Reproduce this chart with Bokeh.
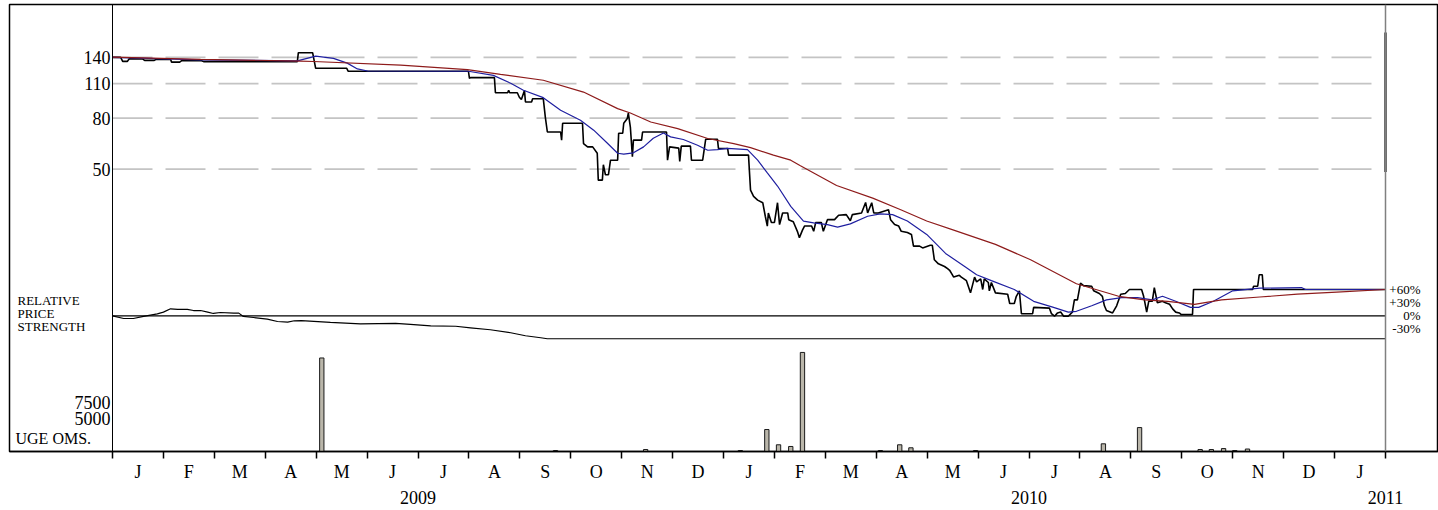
import math
from bokeh.plotting import figure
from bokeh.models import Range1d, LinearScale, LinearAxis, FixedTicker, Span
from bokeh.core.properties import value
from bokeh.embed import file_html
from bokeh.resources import INLINE

# ---------------- data ----------------
# time axis: months since 1 Jan 2009 (0 = start of Jan 2009, 25 = start of Feb 2011)
month_letters = ["J", "F", "M", "A", "M", "J", "J", "A", "S", "O", "N", "D"] * 2 + ["J"]
year_labels = ["2009", "2010", "2011"]
year_pos = [6, 18, 25]
price_ticks = [140, 110, 80, 50]
vol_ticks = [7500, 5000]
rps_ticks = [60, 30, 0, -30]
rps_tick_labels = ["+60%", "+30%", "0%", "-30%"]

price_t = [0.00, 0.16, 0.20, 0.29, 0.33, 0.59, 0.63, 0.82, 0.86, 1.14, 1.16, 1.32, 1.36, 1.75, 1.79,
           3.63, 3.65, 3.93, 3.99, 4.60, 4.63, 6.99, 7.01, 7.03, 7.50, 7.52, 7.76, 7.78, 7.80, 7.95,
           7.99, 8.03, 8.09, 8.11, 8.23, 8.25, 8.46, 8.50, 8.54, 8.80, 8.82, 8.84, 9.23, 9.25, 9.33,
           9.43, 9.52, 9.54, 9.62, 9.64, 9.68, 9.74, 9.78, 9.92, 9.94, 10.02, 10.04, 10.11, 10.13,
           10.17, 10.21, 10.23, 10.39, 10.41, 10.88, 10.90, 10.94, 11.12, 11.14, 11.17, 11.35, 11.37,
           11.59, 11.61, 11.65, 11.88, 11.90, 12.08, 12.10, 12.49, 12.53, 12.59, 12.67, 12.77, 12.82,
           12.86, 12.88, 12.94, 13.00, 13.06, 13.10, 13.16, 13.26, 13.28, 13.37, 13.45, 13.49, 13.55,
           13.59, 13.73, 13.77, 13.81, 13.92, 13.96, 14.04, 14.18, 14.26, 14.41, 14.49, 14.53, 14.71,
           14.79, 14.83, 14.91, 14.95, 15.04, 15.24, 15.28, 15.36, 15.44, 15.49, 15.61, 15.69, 15.73,
           15.85, 15.91, 16.06, 16.10, 16.14, 16.22, 16.34, 16.40, 16.44, 16.48, 16.52, 16.63, 16.67,
           16.77, 16.85, 16.93, 16.97, 17.05, 17.09, 17.12, 17.20, 17.22, 17.26, 17.34, 17.58, 17.62,
           17.71, 17.75, 17.81, 17.85, 18.07, 18.09, 18.40, 18.44, 18.50, 18.56, 18.62, 18.68, 18.77,
           18.85, 18.89, 18.95, 19.01, 19.07, 19.23, 19.27, 19.38, 19.44, 19.48, 19.52, 19.64, 19.72,
           19.80, 19.89, 19.97, 20.21, 20.25, 20.27, 20.31, 20.35, 20.42, 20.46, 20.52, 20.62, 20.68,
           20.76, 20.82, 20.88, 20.95, 20.99, 21.21, 21.23, 22.39, 22.41, 22.49, 22.52, 22.58, 22.60,
           25.00]
price = [140.0, 140.0, 134.9, 134.9, 138.1, 138.1, 136.2, 136.2, 137.5, 137.5, 134.0, 134.0, 135.8, 135.8, 134.6,
         134.6, 146.2, 146.2, 126.6, 126.6, 123.2, 123.2, 115.5, 116.2, 116.2, 101.1, 101.1, 103.3, 101.1, 101.1,
         97.0, 95.0, 103.3, 92.8, 92.8, 95.7, 95.7, 80.8, 70.4, 70.4, 65.3, 76.3, 76.3, 63.3, 61.4,
         61.4, 57.9, 45.2, 45.2, 52.1, 47.5, 47.5, 54.3, 54.3, 69.6, 69.6, 76.3, 79.8, 83.7,
         73.7, 56.1, 65.3, 65.3, 70.4, 70.4, 54.3, 61.4, 60.7, 53.7, 61.8, 61.8, 54.3,
         54.3, 57.9, 65.9, 65.9, 60.5, 60.5, 56.9, 56.9, 41.2, 38.9, 37.6, 36.7, 32.4,
         29.6, 33.4, 30.6, 30.6, 36.7, 30.0, 33.4, 33.4, 31.4, 30.8, 28.2, 26.6, 28.5,
         29.6, 29.6, 28.2, 30.6, 30.6, 28.2, 31.4, 31.4, 32.7, 32.9, 31.1, 32.9, 33.4,
         36.8, 33.4, 36.7, 33.4, 33.4, 34.4, 31.4, 30.0, 29.6, 28.2, 27.9, 27.4, 24.6,
         24.6, 24.2, 24.8, 24.8, 21.7, 20.9, 20.4, 20.0, 19.7, 19.1, 18.5, 18.8, 18.5,
         17.9, 16.0, 18.5, 17.7, 18.2, 16.5, 18.2, 17.6, 16.3, 17.6, 16.0, 15.8, 14.5,
         14.5, 15.5, 16.3, 13.2, 13.2, 14.0, 13.9, 13.2, 12.9, 13.3, 13.4, 12.9, 12.9,
         13.4, 15.0, 15.0, 17.5, 17.1, 17.0, 16.3, 15.9, 15.5, 14.2, 13.6, 13.3, 14.2,
         15.8, 15.9, 16.5, 16.5, 15.5, 14.8, 13.4, 14.8, 14.8, 16.8, 14.6, 14.8, 14.6,
         14.4, 13.8, 13.4, 13.3, 13.1, 13.1, 16.5, 16.5, 17.0, 17.0, 18.9, 18.9, 16.5,
         16.5]

ma_fast_t = [0, 1.73, 3.63, 3.99, 4.34, 4.61, 4.81, 5.01, 6.99, 7.48, 7.82, 8.07, 8.46, 8.80, 9.19, 9.45,
             9.72, 9.92, 10.04, 10.23, 10.43, 10.62, 10.82, 10.96, 11.21, 11.49, 11.69, 11.88, 12.08,
             12.47, 12.67, 12.86, 13.06, 13.32, 13.57, 13.77, 14.04, 14.24, 14.49, 14.83, 15.08, 15.32,
             15.61, 15.99, 16.36, 16.75, 16.97, 17.26, 17.71, 18.09, 18.48, 18.77, 18.93, 19.23, 19.52,
             19.82, 20.13, 20.42, 20.62, 20.88, 21.17, 21.33, 21.62, 22.00, 22.53, 23.35, 23.43, 25.0]
ma_fast = [140, 136.9, 135.6, 141.7, 138.7, 132.8, 125.9, 123.5, 123.2, 118.6, 110.3, 103.4, 96.6, 86.0, 78.5, 71.6,
           63.5, 57.9, 57.4, 58.1, 61.4, 66.5, 69.8, 67.3, 65.7, 62.3, 59.5, 59.9, 60.5,
           59.9, 54.3, 48.3, 42.8, 35.5, 31.0, 30.5, 30.0, 29.3, 30.2, 32.4, 33.1, 32.9,
           31.0, 27.4, 23.0, 20.3, 18.9, 17.9, 16.5, 14.8, 14.0, 13.4, 13.5, 14.2, 15.0,
           15.3, 15.3, 15.0, 15.5, 14.8, 14.0, 14.0, 14.8, 16.3, 16.7, 16.8, 16.5, 16.5]

ma_slow_t = [0, 1.73, 3.69, 3.95, 5.66, 6.97, 7.62, 8.46, 9.25, 9.92, 10.17, 10.57, 11.10, 11.69, 12.20,
             12.53, 12.98, 13.32, 13.51, 14.22, 14.93, 15.48, 15.99, 16.52, 17.34, 18.03, 18.93, 19.76,
             20.27, 20.72, 21.25, 21.78, 22.53, 23.27, 24.04, 25.0]
ma_slow = [140.4, 137.5, 135.3, 134.8, 130.3, 125.1, 119.7, 113.4, 101.7, 87.3, 83.9, 77.2, 72.6, 66.3, 63.3,
           61.0, 56.9, 54.3, 51.6, 43.0, 38.3, 34.4, 31.0, 28.5, 25.0, 21.7, 17.4, 15.5,
           15.0, 14.8, 14.4, 15.0, 15.4, 15.8, 16.1, 16.5]

rps_t = [0.00, 0.22, 0.41, 0.61, 0.88, 1.00, 1.14, 1.28, 1.47, 1.59, 1.73, 1.87, 1.98, 2.12, 2.38, 2.48,
         2.57, 2.77, 3.04, 3.24, 3.44, 3.57, 3.71, 4.28, 4.87, 5.56, 5.85, 6.25, 6.74, 7.03, 7.42,
         7.82, 8.11, 8.41, 8.54, 25.0]
rps = [0, -6.2, -6.2, -1.5, 4.6, 8.5, 16.2, 15.0, 15.0, 12.2, 12.2, 8.5, 5.4, 7.6, 6.2, 6.2,
       -1.5, -3.9, -7.6, -13.2, -14.5, -11.5, -11.1, -15.0, -18.5, -17.3, -19.6, -23.1, -24.2, -27.7, -32.3,
       -39.2, -46.2, -50.8, -53.1, -53.1]

vol_t = [4.11, 8.70, 10.47, 12.33, 12.85, 13.08, 13.32, 13.55, 15.08, 15.46, 15.68, 16.95, 19.46, 20.17,
         21.36, 21.58, 21.82, 22.04, 22.29]
vol = [14340, 150, 300, 150, 3370, 1030, 770, 15190, 150, 1030, 570, 150, 1180, 3670,
       300, 300, 450, 150, 380]

price_band = [48.7, 176.0]   # dark marker on the right edge (low, high)

# ---------------- layout constants ----------------
PX_MONTH = 50.92          # px per month
X0 = 112                  # page x of 1 Jan 2009
PX_LN = 108.8             # px per unit of ln(price)
Y140 = 57                 # page y of price 140
FRAME_L, FRAME_R, FRAME_T, FRAME_B = 9, 1438, 4, 452
RPS0, RPS_PX = 316, 13 / 30.0
VOL_PX = 153.0

x_lo = (FRAME_L - X0) / PX_MONTH
x_hi = (FRAME_R - X0) / PX_MONTH
p_hi = 140 * math.exp((Y140 - FRAME_T) / PX_LN)
p_lo = 140 * math.exp(-(FRAME_B - Y140) / PX_LN)

p = figure(width=1438, height=510, output_backend="svg", toolbar_location=None,
           x_range=Range1d(x_lo, x_hi), y_range=Range1d(p_lo, p_hi), y_axis_type="log",
           x_axis_location=None, y_axis_location=None,
           min_border_left=FRAME_L, min_border_right=0, min_border_top=FRAME_T,
           min_border_bottom=510 - FRAME_B)
p.extra_y_ranges = {
    "rps": Range1d(-(FRAME_B - RPS0) / RPS_PX, (RPS0 - FRAME_T) / RPS_PX),
    "vol": Range1d(0, (FRAME_B - FRAME_T) * VOL_PX),
}
p.extra_y_scales = {"rps": LinearScale(), "vol": LinearScale()}
p.grid.visible = False
p.outline_line_color = "black"
p.outline_line_width = 1.5
p.background_fill_color = "white"
p.border_fill_color = "white"

serif = value("Liberation Serif")

# grid (dashed)
p.segment(x0=[0] * len(price_ticks), x1=[24.95] * len(price_ticks), y0=price_ticks, y1=price_ticks,
          line_color="#c4c4c4", line_width=1.7, line_dash="40 13")

# frame separators
p.add_layout(Span(location=0, dimension="height", line_color="black", line_width=1))
p.add_layout(Span(location=25, dimension="height", line_color="#808080", line_width=1.5))
p.segment(x0=[25], x1=[25], y0=[price_band[0]], y1=[price_band[1]], line_color="#3a3a3a", line_width=2.5)

# RPS zero line and series
p.segment(x0=[0], x1=[25], y0=[0], y1=[0], y_range_name="rps", line_color="black", line_width=1.2)
p.line(rps_t, rps, y_range_name="rps", line_color="black", line_width=1.2)

# volume
p.vbar(x=vol_t, top=vol, bottom=0, width=0.085, y_range_name="vol",
       fill_color="#bab6aa", line_color="#1a1a1a", line_width=1)

# price and moving averages
p.line(price_t, price, line_color="black", line_width=1.6)
p.line(ma_fast_t, ma_fast, line_color="#1f1fa0", line_width=1.2)
p.line(ma_slow_t, ma_slow, line_color="#8e1b1b", line_width=1.2)

# left labels
lab_x = (110 - X0) / PX_MONTH
p.text(x=[lab_x] * len(price_ticks), y=price_ticks, text=[str(v) for v in price_ticks],
       text_font=serif, text_font_size="18px", text_align="right", text_baseline="middle", text_color="black")
p.text(x=[lab_x] * len(vol_ticks), y=vol_ticks, text=[str(v) for v in vol_ticks], y_range_name="vol",
       text_font=serif, text_font_size="18px", text_align="right", text_baseline="middle", text_color="black")
rel_x = (17 - X0) / PX_MONTH
p.text(x=[rel_x] * 3, y=[35.8, 5.8, -24.2], text=["RELATIVE", "PRICE", "STRENGTH"], y_range_name="rps",
       text_font=serif, text_font_size="13px", text_align="left", text_baseline="middle", text_color="black")
p.text(x=[(15 - X0) / PX_MONTH], y=[2065], text=["UGE OMS."], y_range_name="vol",
       text_font=serif, text_font_size="16px", text_align="left", text_baseline="middle", text_color="black")

# right RPS labels
r_x = (1420 - X0) / PX_MONTH
p.text(x=[r_x] * len(rps_ticks), y=rps_ticks, text=rps_tick_labels, y_range_name="rps",
       text_font=serif, text_font_size="13px", text_align="right", text_baseline="middle", text_color="black")

# bottom time axis: month letters at mid-month, years on a second line, month boundary ticks
mid = [i + 0.5 for i in range(len(month_letters))]
overrides = {m: lab for m, lab in zip(mid, month_letters)}
for yp, yl in zip(year_pos, year_labels):
    overrides[yp] = "\n" + yl
xaxis = LinearAxis(ticker=FixedTicker(ticks=mid + year_pos, minor_ticks=list(range(0, 26))),
                   major_label_overrides=overrides,
                   major_tick_line_color=None, major_tick_out=0, major_tick_in=0,
                   minor_tick_out=7, minor_tick_in=0, minor_tick_line_color="black", minor_tick_line_width=1.5,
                   axis_line_color="black", axis_line_width=1.5,
                   major_label_text_font="Liberation Serif", major_label_text_font_size="18px",
                   major_label_text_line_height=1.3, major_label_standoff=3,
                   major_label_text_color="black")
p.add_layout(xaxis, "below")

open("out.html", "w").write(file_html(p, INLINE))
